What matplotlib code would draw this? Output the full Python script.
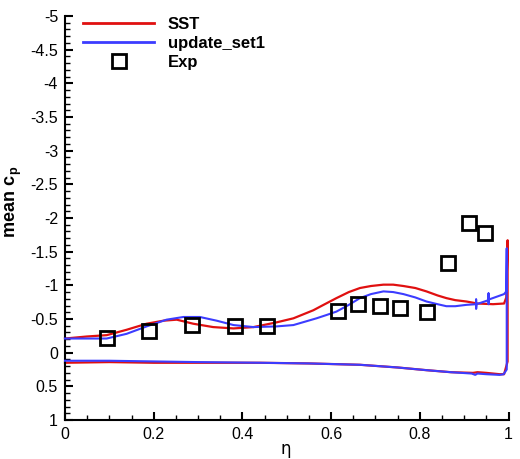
import matplotlib
matplotlib.use("Agg")
import matplotlib.pyplot as plt
from matplotlib.lines import Line2D
from matplotlib.ticker import MultipleLocator, FuncFormatter

plt.rcParams['font.family'] = ['Liberation Sans', 'DejaVu Sans']
plt.rcParams['mathtext.fontset'] = 'custom'
plt.rcParams['mathtext.rm'] = 'Liberation Sans'
plt.rcParams['mathtext.bf'] = 'Liberation Sans:bold'

# ---- data ----
sst_up_eta = [0, 0.049, 0.094, 0.139, 0.184, 0.222, 0.252, 0.289, 0.334, 0.38, 0.425, 0.477,
              0.515, 0.56, 0.58, 0.612, 0.64, 0.665, 0.69, 0.718, 0.74, 0.763, 0.79, 0.815,
              0.84, 0.86, 0.88, 0.905, 0.93, 0.965, 0.99, 0.995, 0.998]
sst_up_cp = [-0.21, -0.24, -0.26, -0.34, -0.43, -0.475, -0.49, -0.43, -0.38, -0.36, -0.38, -0.45,
             -0.51, -0.63, -0.70, -0.81, -0.90, -0.96, -0.99, -1.01, -1.01, -0.99, -0.96, -0.91,
             -0.85, -0.81, -0.78, -0.76, -0.73, -0.72, -0.73, -0.82, -1.67]
sst_lo_eta = [0, 0.1, 0.2, 0.3, 0.44, 0.55, 0.665, 0.75, 0.815, 0.87, 0.92, 0.93, 0.95, 0.98, 0.99, 0.998]
sst_lo_cp = [0.15, 0.14, 0.15, 0.15, 0.15, 0.16, 0.18, 0.22, 0.26, 0.29, 0.30, 0.29, 0.30, 0.32, 0.32, 0.13]

blue_up_eta = [0, 0.094, 0.139, 0.184, 0.229, 0.267, 0.304, 0.342, 0.38, 0.425, 0.477, 0.515,
               0.567, 0.59, 0.612, 0.64, 0.665, 0.69, 0.718, 0.74, 0.763, 0.79, 0.815, 0.84,
               0.86, 0.88, 0.905, 0.927, 0.927, 0.927, 0.928, 0.955, 0.955,
               0.955, 0.956, 0.99, 0.995]
blue_up_cp = [-0.21, -0.21, -0.28, -0.39, -0.49, -0.53, -0.53, -0.475, -0.41, -0.38, -0.39, -0.41,
              -0.51, -0.56, -0.61, -0.71, -0.81, -0.87, -0.91, -0.90, -0.87, -0.82, -0.76, -0.72,
              -0.69, -0.69, -0.71, -0.72, -0.79, -0.65, -0.72, -0.78, -0.88,
              -0.72, -0.79, -0.87, -0.91]
blue_te_eta = [0.996, 0.996]
blue_te_cp = [-1.55, 0.25]
blue_lo_eta = [0, 0.1, 0.2, 0.3, 0.44, 0.55, 0.665, 0.75, 0.815, 0.87, 0.917, 0.925, 0.93, 0.95, 0.98, 0.989]
blue_lo_cp = [0.12, 0.12, 0.13, 0.14, 0.15, 0.16, 0.18, 0.22, 0.26, 0.29, 0.31, 0.33, 0.31, 0.32, 0.33, 0.32]

exp_eta = [0.095, 0.19, 0.287, 0.383, 0.456, 0.615, 0.661, 0.710, 0.756, 0.816, 0.864, 0.912, 0.948]
exp_cp = [-0.22, -0.32, -0.41, -0.40, -0.40, -0.615, -0.72, -0.69, -0.66, -0.61, -1.33, -1.93, -1.77]

labels = ['SST', 'update_set1', 'Exp']
red = '#e01010'
blue = '#3c3cff'

fig = plt.figure(figsize=(5.2, 4.59), dpi=100)
ax = fig.add_axes([65 / 520, 1 - 420 / 459, (508.5 - 65) / 520, (420 - 16) / 459])

red_eta = sst_up_eta + sst_lo_eta[::-1]
red_cp = sst_up_cp + sst_lo_cp[::-1]
ax.plot(red_eta, red_cp, color=red, lw=1.6, clip_on=False, zorder=2)
blue_eta = blue_up_eta + blue_te_eta + blue_lo_eta[::-1]
blue_cp = blue_up_cp + blue_te_cp + blue_lo_cp[::-1]
ax.plot(blue_eta, blue_cp, color=blue, lw=1.5, clip_on=False, zorder=3)
ax.plot(exp_eta, exp_cp, linestyle='none', marker='s', ms=10, mfc='none', mec='black', mew=2, zorder=4)

ax.set_xlim(0, 1)
ax.set_ylim(1, -5)
ax.spines['top'].set_visible(False)
ax.spines['right'].set_visible(False)
ax.spines['left'].set_linewidth(1.5)
ax.spines['bottom'].set_linewidth(1.5)
ax.xaxis.set_major_locator(MultipleLocator(0.2))
ax.xaxis.set_minor_locator(MultipleLocator(0.05))
ax.yaxis.set_major_locator(MultipleLocator(0.5))
ax.yaxis.set_minor_locator(MultipleLocator(0.1))
fmt = FuncFormatter(lambda v, p: ('%g' % round(v, 3)).replace('\u2212', '-'))
ax.xaxis.set_major_formatter(fmt)
ax.yaxis.set_major_formatter(fmt)
ax.tick_params(which='major', direction='in', length=6, width=1.5, labelsize=11.5, pad=5)
ax.tick_params(which='minor', direction='in', length=3.5, width=1)
ax.tick_params(top=False, right=False, which='both')

ax.set_xlabel('\u03b7', fontsize=12, family='DejaVu Sans')
ax.xaxis.label.set_va('center')
ax.xaxis.set_label_coords((286 - 65) / 443.5, -(449 - 420) / 404)
ax.set_ylabel(r'$\mathbf{mean\ c_p}$', fontsize=13)
ax.yaxis.label.set_va('center')
ax.yaxis.set_label_coords(-(65 - 14) / 443.5, 1 - (202 - 16) / 404)

handles = [Line2D([], [], color=red, lw=2),
           Line2D([], [], color=blue, lw=2),
           Line2D([], [], linestyle='none', marker='s', ms=10, mfc='none', mec='black', mew=2)]
leg = ax.legend(handles, labels, loc='upper left', bbox_to_anchor=(76 / 520, 1 - 10 / 459),
                bbox_transform=fig.transFigure, frameon=False, handlelength=4.3,
                handletextpad=0.8, labelspacing=0.25, borderaxespad=0,
                prop={'weight': 'bold', 'size': 12})

fig.savefig('out.png', dpi=100)
